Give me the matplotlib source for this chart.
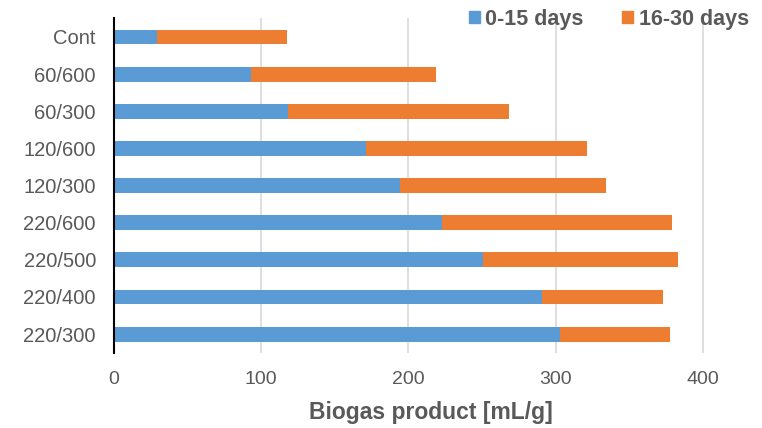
import matplotlib
matplotlib.use("Agg")
import matplotlib.pyplot as plt
from matplotlib.patches import Patch

plt.rcParams['font.family'] = ['Liberation Sans', 'DejaVu Sans']

# Treatment groups, top to bottom
categories = ["Cont", "60/600", "60/300", "120/600", "120/300",
              "220/600", "220/500", "220/400", "220/300"]
# Biogas produced in each period [mL/g]
days_0_15 = [29.5, 93, 118, 171, 194, 223, 251, 291, 303]
days_16_30 = [88, 126, 150, 150, 140, 156, 132, 82, 75]
series_names = ["0-15 days", "16-30 days"]
xticks = [0, 100, 200, 300, 400]

blue = "#5B9BD5"
orange = "#ED7D31"
gray = "#595959"

fig = plt.figure(figsize=(7.62, 4.28), dpi=100)
ax = fig.add_axes([0.1496, 0.176, 0.85, 0.781])

ypos = list(range(len(categories)))
ax.barh(ypos, days_0_15, height=0.40, color=blue, zorder=3)
ax.barh(ypos, days_16_30, left=days_0_15, height=0.40, color=orange, zorder=3)

ax.set_ylim(len(categories) - 0.5, -0.5)
ax.set_yticks(ypos)
ax.set_yticklabels(categories)
ax.set_xlim(0, 440)
ax.set_xticks(xticks)
ax.grid(axis='x', color='#D9D9D9', linewidth=1.2, zorder=0)
ax.tick_params(axis='both', length=0, labelcolor=gray)
ax.tick_params(axis='x', pad=13, labelsize=14)
ax.tick_params(axis='y', pad=13, labelsize=14.5)

for s in ['top', 'right', 'bottom']:
    ax.spines[s].set_visible(False)
ax.spines['left'].set_color('black')
ax.spines['left'].set_linewidth(1.5)
ax.spines['left'].set_zorder(4)

ax.set_xlabel("Biogas product [mL/g]", fontsize=16.5, fontweight='bold',
              color=gray)
ax.xaxis.set_label_coords(0.489, -0.145)

handles = [Patch(color=blue), Patch(color=orange)]
leg = fig.legend(handles, series_names, loc='upper right',
                 bbox_to_anchor=(1.008, 1.025), ncol=2, frameon=False,
                 handlelength=0.5, handleheight=0.5, handletextpad=0.25,
                 columnspacing=1.8,
                 prop={'size': 15.5, 'weight': 'bold'})
for t in leg.get_texts():
    t.set_color(gray)

fig.savefig("out.png", dpi=100)
